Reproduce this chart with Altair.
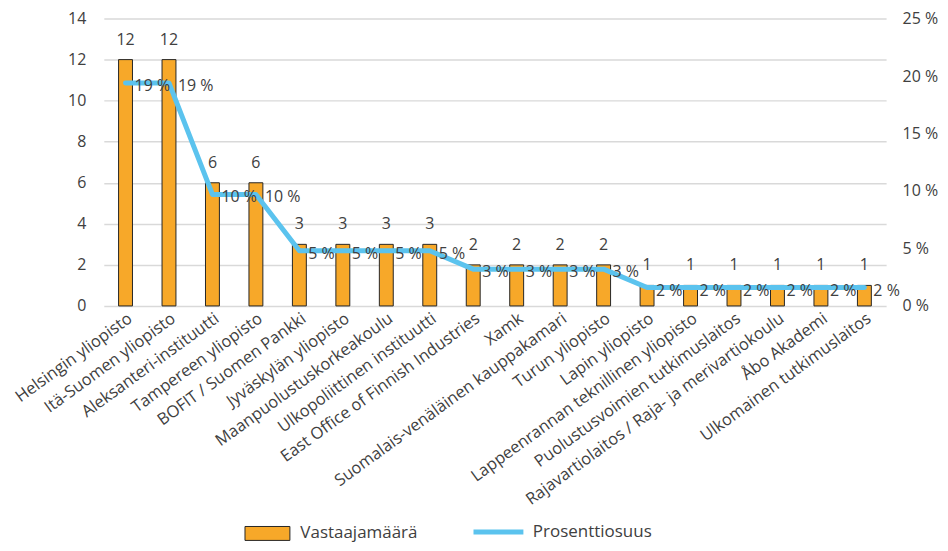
import altair as alt
import pandas as pd

categories = [
    "Helsingin yliopisto",
    "Itä-Suomen yliopisto",
    "Aleksanteri-instituutti",
    "Tampereen yliopisto",
    "BOFIT / Suomen Pankki",
    "Jyväskylän yliopisto",
    "Maanpuolustuskorkeakoulu",
    "Ulkopoliittinen instituutti",
    "East Office of Finnish Industries",
    "Xamk",
    "Suomalais-venäläinen kauppakamari",
    "Turun yliopisto",
    "Lapin yliopisto",
    "Lappeenrannan teknillinen yliopisto",
    "Puolustusvoimien tutkimuslaitos",
    "Rajavartiolaitos / Raja- ja merivartiokoulu",
    "Åbo Akademi",
    "Ulkomainen tutkimuslaitos",
]
counts = [12, 12, 6, 6, 3, 3, 3, 3, 2, 2, 2, 2, 1, 1, 1, 1, 1, 1]
percents = [19.4, 19.4, 9.7, 9.7, 4.8, 4.8, 4.8, 4.8, 3.2, 3.2, 3.2, 3.2,
            1.6, 1.6, 1.6, 1.6, 1.6, 1.6]
series_bar = "Vastaajamäärä"
series_line = "Prosenttiosuus"

df = pd.DataFrame({
    "cat": categories,
    "count": counts,
    "pct": percents,
    "s1": series_bar,
    "s2": series_line,
})

FONT = "Open Sans"
TXT = "#404040"
ORANGE = "#F7A829"
BLUE = "#5BC3EE"

x = alt.X(
    "cat:N", sort=None, title=None,
    scale=alt.Scale(paddingInner=0.68, paddingOuter=0.34),
    axis=alt.Axis(labelAngle=-36, labelFontSize=16.5, labelColor=TXT, domain=False,
                  ticks=False, labelPadding=4, labelLimit=0, labelFont=FONT),
)

yl_scale = alt.Scale(domain=[0, 14], nice=False)
yr_scale = alt.Scale(domain=[0, 25], nice=False)

base = alt.Chart(df)

bars = base.mark_bar(stroke="#262626", strokeWidth=1).encode(
    x=x,
    y=alt.Y("count:Q", scale=yl_scale,
            axis=alt.Axis(values=list(range(0, 15, 2)), title=None, orient="left",
                          grid=True, gridColor="#D9D9D9", gridWidth=1.5, domain=False,
                          ticks=False, labelPadding=18, labelFontSize=16,
                          labelColor=TXT, labelFont=FONT)),
    fill=alt.Fill("s1:N", scale=alt.Scale(domain=[series_bar], range=[ORANGE]),
                  legend=alt.Legend(title=None, orient="none", legendX=141, legendY=493,
                                    symbolType="M-1,-0.31H1V0.31H-1Z", symbolSize=2025,
                                    symbolStrokeColor="#262626", symbolStrokeWidth=1,
                                    symbolFillColor=ORANGE, labelOffset=10,
                                    labelFontSize=17, labelColor=TXT, labelFont=FONT)),
)

bar_text = base.mark_text(baseline="bottom", dy=-12, fontSize=16, color=TXT, font=FONT).encode(
    x=x,
    y=alt.Y("count:Q", scale=yl_scale),
    text=alt.Text("count:Q"),
)

line = base.mark_line(interpolate="linear", strokeWidth=5, strokeCap="round",
                      strokeJoin="round").encode(
    x=x,
    y=alt.Y("pct:Q", scale=yr_scale,
            axis=alt.Axis(values=[0, 5, 10, 15, 20, 25], title=None, orient="right",
                          grid=False, domain=False, ticks=False, labelPadding=16,
                          labelFontSize=16, labelColor=TXT, labelFont=FONT,
                          labelExpr="datum.value + ' %'")),
    stroke=alt.Stroke("s2:N", scale=alt.Scale(domain=[series_line], range=[BLUE]),
                      legend=alt.Legend(title=None, orient="none", legendX=368, legendY=487,
                                        symbolType="stroke", symbolSize=2500,
                                        symbolStrokeWidth=5, labelOffset=7,
                                        labelFontSize=17, labelColor=TXT, labelFont=FONT)),
)

line_text = base.transform_calculate(
    lbl="format(datum.pct, '.0f') + ' %'"
).mark_text(align="left", dx=9, dy=3, baseline="middle", fontSize=16, color=TXT, font=FONT).encode(
    x=x,
    y=alt.Y("pct:Q", scale=yr_scale),
    text=alt.Text("lbl:N"),
)

left = alt.layer(bars, bar_text)
right = alt.layer(line, line_text)

chart = alt.layer(left, right).resolve_scale(
    y="independent", fill="independent", stroke="independent"
).properties(
    width=784, height=288,
    autosize=alt.AutoSizeParams(type="none"),
    padding={"left": 96, "top": 10, "right": 54, "bottom": 237},
).configure(font=FONT).configure_view(stroke=None)

chart.save("out.html", embed_options={"renderer": "svg", "actions": False})
